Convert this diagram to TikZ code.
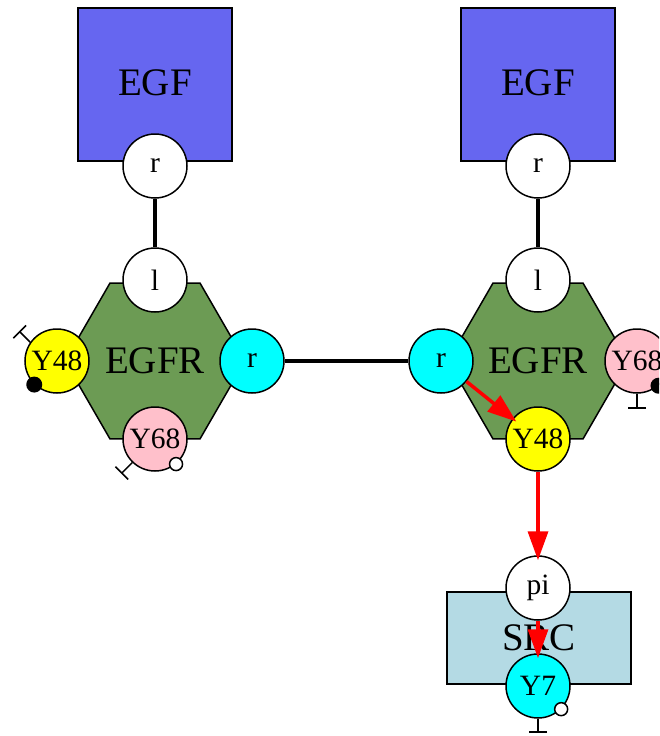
\documentclass[tikz,border=0pt]{standalone}
\usepackage{fontspec}
\setmainfont{Liberation Serif}
\usetikzlibrary{shapes.geometric,arrows.meta}
\definecolor{egfblue}{RGB}{102,102,240}
\definecolor{egfrgreen}{RGB}{108,155,84}
\definecolor{srcblue}{RGB}{180,218,228}
\definecolor{portcyan}{RGB}{0,255,255}
\definecolor{portyellow}{RGB}{255,255,0}
\definecolor{portpink}{RGB}{255,192,203}
\definecolor{actred}{RGB}{255,0,0}
\begin{document}
\begin{tikzpicture}[x=1pt,y=-1pt,
  big/.style={font=\fontsize{39}{42}\selectfont},
  egfbox/.style={draw,line width=1.5pt,fill=egfblue,minimum width=154pt,minimum height=153pt,inner sep=0,big},
  hexa/.style={draw,line width=1.5pt,fill=egfrgreen,regular polygon,regular polygon sides=6,minimum size=180pt,inner sep=0,big},
  srcbox/.style={draw,line width=1.5pt,fill=srcblue,minimum width=184pt,minimum height=92pt,inner sep=0,big},
  port/.style={circle,draw,line width=1.5pt,minimum size=64pt,inner sep=0,font=\fontsize{29.5}{32}\selectfont},
  bond/.style={line width=3.5pt},
  act/.style={actred,line width=3.5pt,shorten >=-5pt,-{Triangle[length=29pt,width=20pt]}},
  tee/.style={line width=1.5pt,-{Bar[width=18pt,line width=1.5pt]}},
  blackdot/.style={circle,fill=black,minimum size=16pt,inner sep=0},
  whitedot/.style={circle,draw,fill=white,line width=1.5pt,minimum size=13pt,inner sep=0},
]
\clip (0,0) rectangle (659,736);
\fill[white] (0,0) rectangle (659,736);

% big shapes
\node[egfbox,text depth=4pt] (egf1) at (155,84.5) {EGF};
\node[egfbox,text depth=4pt] (egf2) at (538,84.5) {EGF};
\node[hexa] (egfr1) at (155,361) {EGFR};
\node[hexa] (egfr2) at (538,361) {EGFR};
\node[srcbox] (src) at (539,638) {SRC};

% ports
\node[port,fill=white] (r1) at (155,166) {r};
\node[port,fill=white] (l1) at (155,280) {l};
\node[port,fill=white] (r2) at (538,166) {r};
\node[port,fill=white] (l2) at (538,280) {l};
\node[port,fill=portyellow] (y48a) at (57,361) {Y48};
\node[port,fill=portcyan] (rc1) at (252,361) {r};
\node[port,fill=portpink] (y68a) at (155,439) {Y68};
\node[port,fill=portcyan] (rc2) at (441,361) {r};
\node[port,fill=portpink] (y68b) at (637,361) {Y68};
\node[port,fill=portyellow] (y48b) at (538,439) {Y48};
\node[port,fill=white] (pi) at (538,588) {pi};
\node[port,fill=portcyan] (y7) at (538,686) {Y7};

% bonds
\draw[bond] (r1) -- (l1);
\draw[bond] (r2) -- (l2);
\draw[bond] (rc1) -- (rc2);

% activations
\draw[act] (rc2) -- (y48b);
\draw[act] (y48b) -- (pi);
\draw[act] (pi) -- (y7);

% state dots
\node[blackdot] (d1) at (y48a.226) {};
\node[whitedot] (d2) at (y68a.-50) {};
\node[blackdot] (d3) at (y68b.-49) {};
\node[whitedot] (d4) at (y7.-45) {};

% tees
\draw[tee] (y48a.145) -- ++(-11,-11);
\draw[tee] (y68a.226) -- ++(-11,11);
\draw[tee] (y68b.south) -- ++(0,15);
\draw[tee] (y7.south) -- ++(0,14);
\end{tikzpicture}
\end{document}
